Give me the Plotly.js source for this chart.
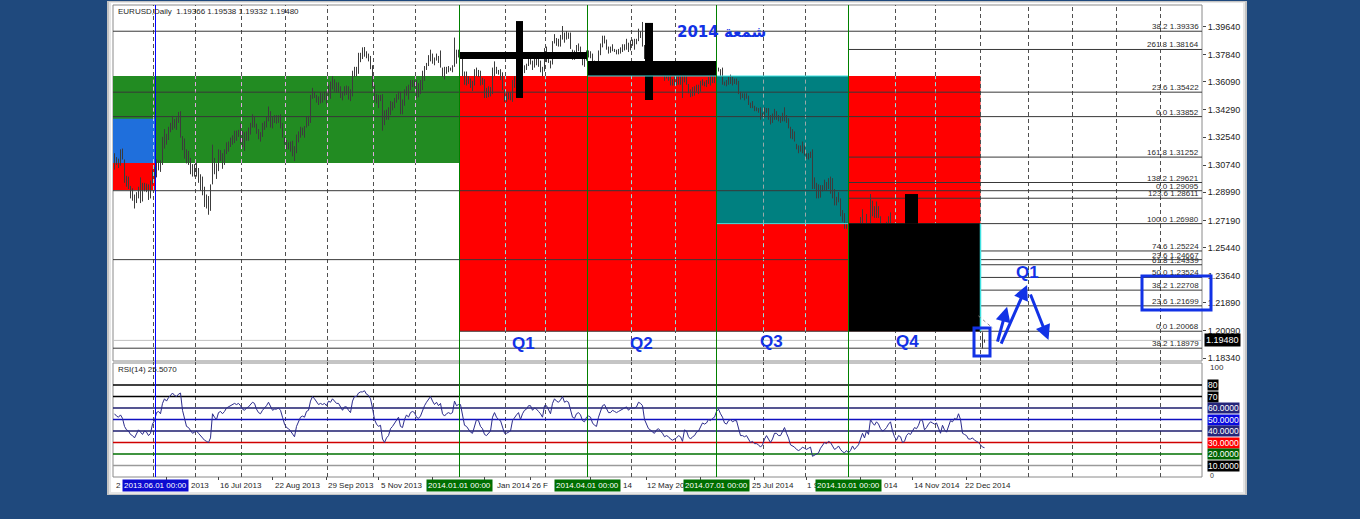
<!DOCTYPE html>
<html><head><meta charset="utf-8">
<script src="https://cdn.plot.ly/plotly-3.0.1.min.js"></script>
<style>html,body{margin:0;padding:0;background:#1f497d;}#chart{width:1360px;height:519px;}</style>
</head><body><div id="chart"></div>
<script>
// ===== DATA (EURUSD daily, one bar per weekday from 3 May 2013) =====
const barHigh = [
// May 2013
1.3150,1.3125,1.3115,1.3175,1.3180,1.3110,1.3005,1.3000,1.2940,1.2925,1.2885,1.2900,1.2935,1.2995,1.2960,1.2960,1.2955,1.2950,1.2975,1.3045,1.3060,
// Jun 2013
1.3110,1.3105,1.3105,1.3255,1.3305,1.3275,1.3320,1.3345,1.3390,1.3370,1.3380,1.3415,1.3420,1.3260,1.3245,1.3175,1.3165,1.3120,1.3080,1.3080,
// Jul 2013
1.3090,1.3055,1.3015,1.3000,1.2935,1.2885,1.2875,1.2950,1.3205,1.3120,1.3085,1.3175,1.3170,1.3150,1.3175,1.3220,1.3225,1.3250,1.3265,1.3295,1.3295,1.3300,1.3345,
// Aug 2013
1.3295,1.3285,1.3290,1.3315,1.3345,1.3400,1.3390,1.3340,1.3305,1.3285,1.3345,1.3355,1.3385,1.3450,1.3420,1.3385,1.3395,1.3395,1.3395,1.3400,1.3345,1.3255,
// Sep 2013
1.3235,1.3220,1.3225,1.3230,1.3195,1.3270,1.3290,1.3320,1.3315,1.3325,1.3385,1.3390,1.3525,1.3570,1.3545,1.3525,1.3515,1.3540,1.3535,1.3545,1.3545,
// Oct 2013
1.3590,1.3610,1.3645,1.3625,1.3605,1.3605,1.3580,1.3545,1.3580,1.3585,1.3580,1.3560,1.3680,1.3705,1.3705,1.3795,1.3795,1.3830,1.3832,1.3805,1.3790,1.3775,1.3715,
// Nov 2013
1.3590,1.3530,1.3525,1.3525,1.3530,1.3425,1.3430,1.3445,1.3485,1.3480,1.3505,1.3530,1.3545,1.3545,1.3495,1.3560,1.3580,1.3590,1.3620,1.3620,1.3620,
// Dec 2013
1.3620,1.3600,1.3620,1.3680,1.3710,1.3730,1.3780,1.3815,1.3790,1.3765,1.3790,1.3775,1.3810,1.3700,1.3705,1.3705,1.3710,1.3700,1.3715,1.3893,1.3815,1.3815,
// Jan 2014
1.3790,1.3775,1.3675,1.3675,1.3645,1.3630,1.3615,1.3690,1.3700,1.3685,1.3680,1.3635,1.3625,1.3570,1.3580,1.3575,1.3700,1.3740,1.3705,1.3685,1.3690,1.3670,1.3560,
// Feb 2014
1.3535,1.3540,1.3540,1.3620,1.3645,1.3660,1.3680,1.3650,1.3690,1.3715,1.3725,1.3775,1.3775,1.3745,1.3775,1.3770,1.3765,1.3745,1.3705,1.3825,
// Mar 2014
1.3835,1.3775,1.3745,1.3870,1.3915,1.3890,1.3885,1.3910,1.3967,1.3925,1.3935,1.3925,1.3925,1.3815,1.3810,1.3845,1.3855,1.3835,1.3800,1.3775,1.3810,
// Apr 2014
1.3810,1.3805,1.3790,1.3745,1.3735,1.3810,1.3855,1.3905,1.3905,1.3880,1.3835,1.3835,1.3850,1.3820,1.3815,1.3820,1.3830,1.3850,1.3850,1.3885,1.3860,1.3875,
// May 2014
1.3880,1.3885,1.3885,1.3950,1.3935,1.3993,1.3845,1.3785,1.3770,1.3725,1.3730,1.3715,1.3720,1.3730,1.3705,1.3690,1.3665,1.3665,1.3665,1.3645,1.3625,1.3640,
// Jun 2014
1.3645,1.3670,1.3645,1.3670,1.3675,1.3645,1.3595,1.3560,1.3575,1.3580,1.3590,1.3590,1.3615,1.3625,1.3610,1.3620,1.3640,1.3645,1.3645,1.3650,1.3695,
// Jul 2014
1.3700,1.3690,1.3700,1.3610,1.3620,1.3640,1.3655,1.3640,1.3630,1.3630,1.3615,1.3545,1.3535,1.3535,1.3535,1.3520,1.3475,1.3485,1.3455,1.3445,1.3440,1.3445,1.3410,
// Aug 2014
1.3445,1.3440,1.3440,1.3395,1.3405,1.3435,1.3420,1.3395,1.3390,1.3410,1.3445,1.3395,1.3375,1.3320,1.3305,1.3290,1.3210,1.3200,1.3200,1.3225,1.3200,
// Sep 2014
1.3150,1.3150,1.3160,1.3175,1.2995,1.2960,1.2950,1.2945,1.2945,1.2980,1.2965,1.2990,1.3000,1.2990,1.2920,1.2870,1.2900,1.2860,1.2785,1.2765,1.2705,1.2685,
// Oct 2014
1.2660,1.2700,1.2680,1.2670,1.2665,1.2740,1.2790,1.2685,1.2760,1.2690,1.2888,1.2845,1.2810,1.2840,1.2810,1.2745,1.2680,1.2690,1.2710,1.2745,1.2770,1.2640,1.2595,
// Nov 2014
1.2525,1.2590,1.2575,1.2530,1.2445,1.2480,1.2495,1.2475,1.2505,1.2545,1.2510,1.2545,1.2600,1.2600,1.2575,1.2445,1.2495,1.2530,1.2505,1.2475,
// Dec 2014
1.2500,1.2475,1.2380,1.2455,1.2385,1.2345,1.2415,1.2455,1.2425,1.2485,1.2475,1.2570,1.2500,1.2305,1.2310,1.2285,1.2245,1.2215,1.2230,1.2240,1.2215,1.2185,1.2170,
// Jan 2015
1.2000,1.19538
];
const barLow = [
// May 2013
1.3045,1.3075,1.3055,1.3070,1.3110,1.2960,1.2935,1.2920,1.2860,1.2845,1.2795,1.2830,1.2860,1.2830,1.2840,1.2905,1.2900,1.2850,1.2860,1.2950,1.2985,
// Jun 2013
1.2995,1.3040,1.3030,1.3075,1.3180,1.3205,1.3235,1.3285,1.3300,1.3310,1.3300,1.3345,1.3250,1.3170,1.3115,1.3085,1.3075,1.3015,1.3000,1.3000,
// Jul 2013
1.3000,1.2960,1.2910,1.2880,1.2805,1.2795,1.2755,1.2780,1.2950,1.3015,1.2985,1.3035,1.3100,1.3050,1.3075,1.3145,1.3160,1.3190,1.3205,1.3215,1.3230,1.3255,1.3210,
// Aug 2013
1.3190,1.3165,1.3230,1.3230,1.3270,1.3315,1.3315,1.3275,1.3240,1.3225,1.3255,1.3300,1.3315,1.3355,1.3315,1.3310,1.3345,1.3340,1.3345,1.3310,1.3250,1.3205,
// Sep 2013
1.3175,1.3175,1.3160,1.3130,1.3100,1.3150,1.3220,1.3250,1.3265,1.3250,1.3315,1.3325,1.3345,1.3500,1.3505,1.3475,1.3460,1.3470,1.3475,1.3490,1.3465,
// Oct 2013
1.3515,1.3500,1.3560,1.3545,1.3540,1.3540,1.3505,1.3490,1.3520,1.3525,1.3495,1.3485,1.3515,1.3640,1.3645,1.3660,1.3735,1.3755,1.3770,1.3760,1.3740,1.3690,1.3570,
// Nov 2013
1.3480,1.3470,1.3440,1.3485,1.3295,1.3330,1.3365,1.3365,1.3395,1.3425,1.3440,1.3475,1.3495,1.3400,1.3400,1.3455,1.3520,1.3495,1.3555,1.3575,1.3570,
// Dec 2013
1.3505,1.3510,1.3530,1.3555,1.3615,1.3685,1.3710,1.3740,1.3725,1.3715,1.3745,1.3730,1.3700,1.3640,1.3625,1.3660,1.3670,1.3680,1.3670,1.3705,1.3725,1.3765,
// Jan 2014
1.3770,1.3645,1.3590,1.3585,1.3595,1.3570,1.3550,1.3585,1.3645,1.3640,1.3585,1.3590,1.3505,1.3505,1.3510,1.3515,1.3530,1.3645,1.3660,1.3655,1.3620,1.3555,1.3480,
// Feb 2014
1.3480,1.3495,1.3490,1.3480,1.3570,1.3605,1.3615,1.3560,1.3575,1.3665,1.3685,1.3710,1.3720,1.3685,1.3700,1.3715,1.3705,1.3670,1.3645,1.3675,
// Mar 2014
1.3735,1.3730,1.3695,1.3720,1.3855,1.3840,1.3835,1.3835,1.3880,1.3860,1.3880,1.3885,1.3820,1.3750,1.3750,1.3775,1.3805,1.3790,1.3715,1.3705,1.3745,
// Apr 2014
1.3765,1.3760,1.3700,1.3675,1.3680,1.3715,1.3780,1.3830,1.3855,1.3815,1.3790,1.3795,1.3805,1.3800,1.3785,1.3785,1.3790,1.3800,1.3810,1.3815,1.3800,1.3810,
// May 2014
1.3840,1.3815,1.3850,1.3870,1.3890,1.3835,1.3755,1.3735,1.3685,1.3690,1.3650,1.3645,1.3680,1.3685,1.3665,1.3645,1.3615,1.3630,1.3615,1.3585,1.3585,1.3585,
// Jun 2014
1.3585,1.3590,1.3590,1.3505,1.3605,1.3590,1.3535,1.3510,1.3515,1.3520,1.3545,1.3530,1.3545,1.3585,1.3580,1.3575,1.3595,1.3585,1.3600,1.3600,1.3635,
// Jul 2014
1.3675,1.3645,1.3590,1.3585,1.3580,1.3590,1.3595,1.3585,1.3595,1.3590,1.3530,1.3495,1.3505,1.3490,1.3500,1.3460,1.3440,1.3440,1.3420,1.3420,1.3410,1.3365,1.3385,
// Aug 2014
1.3380,1.3410,1.3365,1.3335,1.3345,1.3365,1.3365,1.3355,1.3345,1.3355,1.3355,1.3345,1.3310,1.3245,1.3240,1.3225,1.3175,1.3150,1.3160,1.3150,1.3135,
// Sep 2014
1.3115,1.3110,1.3120,1.2920,1.2920,1.2860,1.2860,1.2865,1.2905,1.2910,1.2910,1.2920,1.2890,1.2860,1.2815,1.2815,1.2835,1.2745,1.2710,1.2665,1.2665,1.2570,
// Oct 2014
1.2585,1.2605,1.2500,1.2525,1.2590,1.2600,1.2640,1.2615,1.2610,1.2615,1.2625,1.2745,1.2735,1.2735,1.2735,1.2635,1.2615,1.2625,1.2645,1.2685,1.2610,1.2545,1.2480,
// Nov 2014
1.2440,1.2440,1.2455,1.2355,1.2355,1.2390,1.2425,1.2405,1.2435,1.2430,1.2445,1.2460,1.2520,1.2500,1.2360,1.2385,1.2420,1.2445,1.2455,1.2430,
// Dec 2014
1.2440,1.2350,1.2295,1.2280,1.2270,1.2245,1.2265,1.2375,1.2380,1.2375,1.2385,1.2430,1.2410,1.2245,1.2220,1.2220,1.2165,1.2165,1.2200,1.2170,1.2155,1.2135,1.2085,
// Jan 2015
1.1896,1.19332
];
const rsiValues = [
55,53,52,54,51,44,41,40,37,36,34,37,41,39,37,40,39,36,38,46,49,
56,57,55,64,68,66,69,71,73,71,70,72,73,58,50,44,43,40,38,39,
40,38,36,34,32,31,30,34,55,52,50,56,57,55,57,60,61,62,63,64,63,64,62,
59,58,60,61,63,65,64,59,56,55,58,60,62,65,61,58,59,59,60,58,52,46,
43,42,40,37,35,44,48,52,53,52,57,58,66,70,68,65,63,64,63,64,62,
66,65,68,66,64,64,61,58,61,61,58,56,66,70,70,73,74,74,75,72,71,68,60,
50,46,44,45,33,30,34,36,42,44,47,50,52,44,43,50,54,52,56,57,56,
52,51,53,58,62,65,68,70,66,63,65,62,64,55,53,55,56,55,56,66,62,63,
63,52,45,44,41,39,38,45,50,49,44,42,37,36,38,40,52,56,52,50,49,44,38,
38,39,40,49,52,54,56,50,55,58,59,62,62,58,60,59,57,55,52,62,
62,58,55,64,68,66,65,67,70,65,66,65,58,52,51,55,56,54,49,48,52,
53,52,47,45,44,52,57,62,63,59,56,56,58,57,56,57,58,59,60,61,58,60,
60,60,61,65,64,62,50,46,42,41,39,38,41,42,40,38,35,36,35,33,32,33,
34,36,35,31,41,40,35,33,35,36,39,40,44,47,46,47,50,49,51,52,57,
59,55,52,47,46,49,50,48,49,49,42,36,36,35,36,33,30,31,29,29,28,26,28,
33,36,33,30,33,38,38,36,36,40,43,38,34,28,27,26,24,23,24,26,25,
24,25,26,18,19,20,21,25,28,30,29,31,30,27,24,25,27,24,22,21,23,21,
23,27,24,26,28,33,38,34,40,37,50,47,45,48,46,42,40,41,43,46,48,40,35,
32,36,35,30,31,36,38,37,40,43,42,45,50,49,41,43,46,48,47,46,
47,42,38,45,41,39,44,49,48,51,50,55,50,38,37,36,33,33,34,32,31,30,28,
26,25.5
];
// price axis ticks
const priceTicks = [1.3964,1.3784,1.3609,1.3429,1.3254,1.3074,1.2899,1.2719,1.2544,1.2364,1.2189,1.2009,1.1834];
// time-scale tick bars and the label text left visible beside the marker boxes
const dateTickBar = [-1,26,52,79,106,132,159,185,208,238,266,293,320,346,373,399,426];
const dateLabelBar = [-0.25,37.25,51.75,79.25,105.75,132.25,190.25,207.75,253.25,265.25,317.75,345.25,383.75,398.75,424.25];
const dateLabelText = ['2','2013','16 Jul 2013','22 Aug 2013','29 Sep 2013','5 Nov 2013','Jan 2014','26 F','14','12 May 201','25 Jul 2014','1 S','014','14 Nov 2014','22 Dec 2014'];
// month grid (bar boundary)
const monthGridBar = [19.5,40.5,63.5,85.5,106.5,129.5,150.5,172.5,195.5,215.5,236.5,258.5,280.5,301,324.5,345.5,367,390.5,410.5,433,457,479,501,523];
// vertical markers
const markerBar = [20.5,172.5,236.5,301,367];
const markerText = ['2013.06.01 00:00','2014.01.01 00:00','2014.04.01 00:00','2014.07.01 00:00','2014.10.01 00:00'];
// coloured zones (bar range, price range)
const zoneStart = [-30,-30,-30,172.5,301];
const zoneEnd = [172.5,20.5,20.5,433,367];
const zoneTop = [1.3646,1.3372,1.3087,1.3646,1.3646];
const zoneBottom = [1.3087,1.3087,1.2914,1.2007,1.2698];
// quarterly candles drawn in black (bodies and wicks)
const qStart = [172.5,200.75,236.5,265.25,367,395.25];
const qEnd = [236.5,204.25,301,269.25,433,401.75];
const qTop = [1.3800,1.3999,1.3742,1.3987,1.2698,1.2888];
const qBottom = [1.3755,1.3505,1.3646,1.3492,1.20068,1.2698];
// fibonacci levels
const fibLevel = [1.39336,1.38164,1.35422,1.33852,1.31252,1.29621,1.29095,1.28611,1.26980,1.25224,1.24667,1.24339,1.23524,1.22708,1.21699,1.20068,1.18979];
const fibTag = ['38.2','261.8','23.6','0.0','161.8','138.2','0.0','123.6','100.0','74.6','23.6','61.8','50.0','38.2','23.6','0.0','38.2'];
const fibFromBar = [-30,367,-30,-30,367,367,-30,367,367,367,-30,367,367,367,367,172.5,-30];
// RSI levels
const rsiLevel = [80,70,60,50,40,30,20,10];
const rsiLevelText = ['80','70','60.0000','50.0000','40.0000','30.0000','20.0000','10.0000'];
const lastBid = 1.19480;

// ===== STYLE / GEOMETRY =====
const W=1360,H=519, X0=113, X1=1202, R0=-0.75, R1=543.75;
const PX_PER=1557, P_REF=1.3964, Y_REF=26.5;
const priceAtY = y => P_REF-(y-Y_REF)/PX_PER;
const PTOP=5, PBOT=361, RTOP=362, RBOT=477;
const fx = x => x/W, fy = y => 1-y/H;
const barPx = i => X0+(i-R0)/(R1-R0)*(X1-X0);
const FONT='Liberation Sans, Arial, sans-serif';
const zoneFill = ['#228b22','#1f6fdc','#ff0000','#ff0000','#008080'];
const zoneGrid = ['#e0a8e0','#b8c8ff','#8fdede','#8fdede','#9aa8a8'];
const rsiLineColor = ['#000000','#000000','#1c1c6e','#1010c0','#1c1c6e','#d00000','#007000','#9a9a9a'];
const rsiBoxColor = ['#000000','#000000','#25257a','#0a0ae0','#25257a','#ff0000','#006400','#000000'];
const BLUE='#1232e6';

const idx = barHigh.map((_,i)=>i);
const bx=[],by=[];
idx.forEach(i=>{bx.push(i,i,null);by.push(barLow[i],barHigh[i],null);});

const traces=[
 {x:bx,y:by,type:'scatter',mode:'lines',line:{color:'#3c3c3c',width:1},hoverinfo:'skip',xaxis:'x',yaxis:'y'},
 {x:idx,y:rsiValues,type:'scatter',mode:'lines',line:{color:'#2b2b8c',width:1},hoverinfo:'skip',xaxis:'x2',yaxis:'y2'}
];

const shapes=[];
const pRect=(x0,y0,x1,y1,fill,line)=>shapes.push({type:'rect',xref:'paper',yref:'paper',x0:fx(x0),x1:fx(x1),y0:fy(y1),y1:fy(y0),fillcolor:fill,line:line||{width:0},layer:'below'});
// window frame
pRect(107,1,1247,495,'#c4c4c4');
pRect(109,2,1245,494,'#e6e6e6');
pRect(111,3,1243,492,'#ffffff');
pRect(X0,PTOP,X1,PBOT,'#ffffff',{color:'#8a8a8a',width:1});
pRect(X0,RTOP+1,X1,RBOT,'#ffffff',{color:'#8a8a8a',width:1});

// zones
zoneStart.forEach((s,k)=>shapes.push({type:'rect',xref:'x',yref:'y',x0:s,x1:zoneEnd[k],y0:zoneBottom[k],y1:zoneTop[k],fillcolor:zoneFill[k],line:{width:0},layer:'below'}));
// grid lines (colour changes over coloured zones)
const PMIN=priceAtY(PBOT), PMAX=priceAtY(PTOP);
monthGridBar.forEach(g=>{
  const br=[PMIN,PMAX];
  zoneStart.forEach((s,k)=>{ if(g>s && g<zoneEnd[k]){br.push(zoneTop[k],zoneBottom[k]);} });
  const ys=[...new Set(br)].filter(v=>v>=PMIN&&v<=PMAX).sort((a,b)=>a-b);
  for(let j=0;j<ys.length-1;j++){
    const mid=(ys[j]+ys[j+1])/2; let col='#505050';
    zoneStart.forEach((s,k)=>{ if(g>s&&g<zoneEnd[k]&&mid>zoneBottom[k]&&mid<zoneTop[k]) col=zoneGrid[k]; });
    shapes.push({type:'line',xref:'x',yref:'y',x0:g,x1:g,y0:ys[j],y1:ys[j+1],line:{color:col,width:1,dash:'4px,3px'},layer:'below'});
  }
  shapes.push({type:'line',xref:'x2',yref:'y2',x0:g,x1:g,y0:0,y1:100,line:{color:'#505050',width:1,dash:'4px,3px'},layer:'below'});
});
// fib lines
fibLevel.forEach((v,k)=>shapes.push({type:'line',xref:'x',yref:'y',x0:fibFromBar[k],x1:R1,y0:v,y1:v,line:{color:'#383838',width:1},layer:'below'}));
// bid line
shapes.push({type:'line',xref:'x',yref:'y',x0:R0,x1:R1,y0:lastBid,y1:lastBid,line:{color:'#c0c0c0',width:1},layer:'below'});
// rsi levels
rsiLevel.forEach((v,k)=>shapes.push({type:'line',xref:'x2',yref:'y2',x0:R0,x1:R1,y0:v,y1:v,line:{color:rsiLineColor[k],width:1.5},layer:'below'}));
// black quarterly candles
qStart.forEach((s,k)=>shapes.push({type:'rect',xref:'x',yref:'y',x0:s,x1:qEnd[k],y0:qBottom[k],y1:qTop[k],fillcolor:'#000000',line:{width:0},layer:'above'}));
// cyan borders
shapes.push({type:'line',xref:'x',yref:'y',x0:236.5,x1:367,y0:zoneTop[3],y1:zoneTop[3],line:{color:'#3fe0e0',width:1},layer:'above'});
shapes.push({type:'line',xref:'x',yref:'y',x0:301,x1:367,y0:zoneBottom[4],y1:zoneBottom[4],line:{color:'#3fe0e0',width:1},layer:'above'});
shapes.push({type:'line',xref:'x',yref:'y',x0:433,x1:433,y0:qBottom[4],y1:qTop[4],line:{color:'#3fe0e0',width:1.5},layer:'above'});
// dotted line near last bar
shapes.push({type:'line',xref:'x',yref:'y',x0:432,x1:439,y0:1.2105,y1:1.2028,line:{color:'#8a8a8a',width:1,dash:'dot'},layer:'above'});
// vertical markers through both panels
markerBar.forEach((m,k)=>shapes.push({type:'line',xref:'x',yref:'paper',x0:m,x1:m,y0:fy(RBOT),y1:fy(PTOP),line:{color:k===0?'#0000ff':'#008000',width:1},layer:'above'}));
// time-scale tick marks
dateTickBar.forEach(b=>{const p=barPx(b); if(p>X0) shapes.push({type:'line',xref:'paper',yref:'paper',x0:fx(p),x1:fx(p),y0:fy(RBOT),y1:fy(RBOT+3),line:{color:'#444',width:1},layer:'above'});});
// highlight boxes
shapes.push({type:'rect',xref:'paper',yref:'paper',x0:fx(1142),x1:fx(1211),y0:fy(310),y1:fy(276),line:{color:BLUE,width:3},fillcolor:'rgba(0,0,0,0)',layer:'above'});
shapes.push({type:'rect',xref:'paper',yref:'paper',x0:fx(974),x1:fx(990),y0:fy(356),y1:fy(328),line:{color:BLUE,width:3},fillcolor:'rgba(0,0,0,0)',layer:'above'});

const ann=[];
const small=(sz,col)=>({family:FONT,size:sz,color:col||'#1e1e1e'});
// header + rsi label
ann.push({xref:'paper',yref:'paper',x:fx(116),y:fy(12),xanchor:'left',yanchor:'middle',text:'EURUSD,Daily  1.19366 1.19538 1.19332 1.19480',showarrow:false,font:small(8)});
ann.push({xref:'paper',yref:'paper',x:fx(116),y:fy(369),xanchor:'left',yanchor:'middle',text:'RSI(14) 25.5070',showarrow:false,font:small(8)});
// fib labels
fibLevel.forEach((v,k)=>ann.push({xref:'paper',yref:'y',x:fx(1200),y:v,xanchor:'right',yanchor:'bottom',text:fibTag[k]+' '+v.toFixed(5),showarrow:false,font:small(8,'#2a2a2a'),borderpad:0,yshift:-1}));
// bid label on axis
ann.push({xref:'paper',yref:'y',x:fx(1204),y:lastBid,xanchor:'left',yanchor:'middle',text:lastBid.toFixed(5),showarrow:false,bgcolor:'#000',font:small(9,'#fff'),borderpad:1});
// RSI axis labels
ann.push({xref:'paper',yref:'paper',x:fx(1208),y:fy(367),xanchor:'left',yanchor:'middle',text:'100',showarrow:false,font:small(8,'#333')});
ann.push({xref:'paper',yref:'paper',x:fx(1208),y:fy(475),xanchor:'left',yanchor:'middle',text:'0',showarrow:false,font:small(7,'#333')});
rsiLevel.forEach((v,k)=>ann.push({xref:'paper',yref:'y2',x:fx(1207),y:v,xanchor:'left',yanchor:'middle',text:rsiLevelText[k],showarrow:false,bgcolor:rsiBoxColor[k],font:small(8.5,'#fff'),borderpad:0}));
// date labels
dateLabelBar.forEach((b,k)=>ann.push({xref:'paper',yref:'paper',x:fx(barPx(b)),y:fy(485),xanchor:'left',yanchor:'middle',text:dateLabelText[k],showarrow:false,font:small(8)}));
markerBar.forEach((m,k)=>ann.push({xref:'paper',yref:'paper',x:fx(barPx(m)),y:fy(485),xanchor:'center',yanchor:'middle',text:markerText[k],showarrow:false,bgcolor:k===0?'#0c0cd0':'#006e00',font:small(8,'#fff'),borderpad:1}));
// quarter labels
const qLab=[['Q1',204.5,1.1930],['Q2',263.5,1.1930],['Q3',328.5,1.1940],['Q4',396.5,1.1940],['Q1',456.5,1.2385]];
qLab.forEach(q=>ann.push({xref:'x',yref:'y',x:q[1],y:q[2],text:'<b>'+q[0]+'</b>',showarrow:false,font:{family:FONT,size:17,color:BLUE}}));
ann.push({xref:'paper',yref:'paper',x:fx(721),y:fy(21),text:'<b>\u202Bشمعة 2014\u202C</b>',showarrow:false,font:{family:'DejaVu Sans, sans-serif',size:15,color:BLUE}});
// arrows
const arr=[[446.3,1.2164,441.3,1.1931],[456.3,1.2304,443,1.1918],[467,1.1950,457.7,1.2252]];
arr.forEach(a=>ann.push({xref:'x',yref:'y',axref:'x',ayref:'y',x:a[0],y:a[1],ax:a[2],ay:a[3],text:'',showarrow:true,arrowhead:2,arrowsize:1,arrowwidth:3,arrowcolor:BLUE}));

const layout={
 width:W,height:H,margin:{l:0,r:0,t:0,b:0},paper_bgcolor:'#1f497d',plot_bgcolor:'rgba(0,0,0,0)',showlegend:false,
 xaxis:{domain:[fx(X0),fx(X1)],range:[R0,R1],showgrid:false,zeroline:false,showticklabels:false,fixedrange:true,anchor:'y'},
 yaxis:{domain:[fy(PBOT),fy(PTOP)],range:[priceAtY(PBOT),priceAtY(PTOP)],side:'right',anchor:'x',showgrid:false,zeroline:false,
   tickvals:priceTicks,ticktext:priceTicks.map(v=>v.toFixed(5)),ticks:'outside',ticklen:3,tickcolor:'#444',tickfont:small(9,'#222'),fixedrange:true},
 xaxis2:{domain:[fx(X0),fx(X1)],range:[R0,R1],showgrid:false,zeroline:false,showticklabels:false,anchor:'y2',fixedrange:true},
 yaxis2:{domain:[fy(RBOT),fy(RTOP)],range:[0,100],showgrid:false,zeroline:false,showticklabels:false,anchor:'x2',fixedrange:true},
 shapes:shapes,annotations:ann
};
Plotly.newPlot('chart',traces,layout,{displayModeBar:false,staticPlot:true});
</script></body></html>
